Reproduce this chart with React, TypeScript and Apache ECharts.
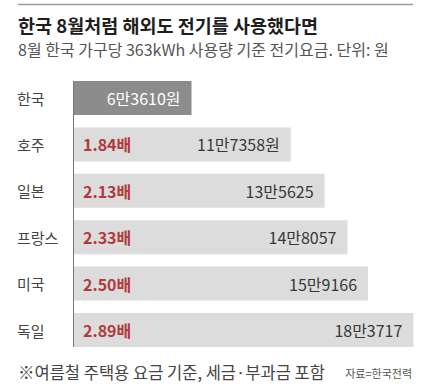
import React, { useEffect, useRef } from "react";
import * as echarts from "echarts";

const categories = ["한국", "호주", "일본", "프랑스", "미국", "독일"];
const values = [63610, 117358, 135625, 148057, 159166, 183717];
const valueLabels = ["6만3610원", "11만7358원", "13만5625", "14만8057", "15만9166", "18만3717"];
const multipliers = ["", "1.84배", "2.13배", "2.33배", "2.50배", "2.89배"];

const titleText = "한국 8월처럼 해외도 전기를 사용했다면";
const subtitleText = "8월 한국 가구당 363kWh 사용량 기준 전기요금. 단위: 원";
const footnoteText = "※여름철 주택용 요금 기준, 세금·부과금 포함";
const sourceText = "자료=한국전력";

const FONT = '"Noto Sans CJK KR", "Noto Sans", sans-serif';

export default function App() {
  const ref = useRef<HTMLDivElement>(null);
  useEffect(() => {
    if (!ref.current) return;
    const chart = echarts.init(ref.current, undefined, { renderer: "svg" });
    const barW = 34;
    chart.setOption({
      animation: false,
      backgroundColor: "#ffffff",
      textStyle: { fontFamily: FONT },
      grid: { left: 74, width: 351, top: 74.8, height: 278.4 },
      xAxis: {
        type: "value",
        min: 0,
        max: 190000,
        show: false,
      },
      yAxis: {
        type: "category",
        inverse: true,
        data: categories,
        axisLine: { show: false },
        axisTick: { show: false },
        axisLabel: {
          align: "left",
          margin: 57,
          fontSize: 15,
          color: "#444444",
          fontFamily: FONT,
        },
      },
      series: [
        {
          type: "bar",
          barWidth: barW,
          data: values.map((v, i) => ({
            value: v,
            itemStyle: { color: i === 0 ? "#8c8c8c" : "#dcdcdc" },
            label: { color: i === 0 ? "#ffffff" : "#383838" },
          })),
          label: {
            show: true,
            position: "insideRight",
            distance: 11,
            fontSize: 16,
            fontFamily: FONT,
            formatter: (p: any) => valueLabels[p.dataIndex],
          },
          silent: true,
        },
        {
          type: "bar",
          barWidth: barW,
          barGap: "-100%",
          data: values,
          itemStyle: { color: "rgba(0,0,0,0)" },
          label: {
            show: true,
            position: "insideLeft",
            distance: 9,
            fontSize: 16,
            fontWeight: "bold",
            color: "#b23a3d",
            fontFamily: FONT,
            formatter: (p: any) => multipliers[p.dataIndex],
          },
          silent: true,
        },
      ],
    });
    const x0 = chart.convertToPixel({ xAxisIndex: 0 }, 0) as number;
    const yTop = (chart.convertToPixel({ yAxisIndex: 0 }, 0) as number) - barW / 2;
    const yBot = (chart.convertToPixel({ yAxisIndex: 0 }, categories.length - 1) as number) + barW / 2;
    chart.setOption({
      graphic: [
        {
          type: "line",
          shape: { x1: 18, y1: 4.5, x2: 413, y2: 4.5 },
          style: { stroke: "#9a9a9a", lineWidth: 1.5 },
        },
        {
          type: "text",
          x: 18,
          y: 25,
          style: {
            text: titleText,
            fontSize: 18.5,
            fontWeight: "bold",
            fill: "#1e1e1e",
            fontFamily: FONT,
            textVerticalAlign: "middle",
          },
        },
        {
          type: "text",
          x: 18,
          y: 49,
          style: {
            text: subtitleText,
            fontSize: 16,
            fill: "#555555",
            fontFamily: FONT,
            textVerticalAlign: "middle",
          },
        },
        {
          type: "line",
          shape: { x1: x0 - 0.5, y1: yTop, x2: x0 - 0.5, y2: yBot },
          style: { stroke: "#777777", lineWidth: 1 },
        },
        {
          type: "text",
          x: 18,
          y: 372,
          style: {
            text: footnoteText,
            fontSize: 16.5,
            fill: "#444444",
            fontFamily: FONT,
            textVerticalAlign: "middle",
          },
        },
        {
          type: "text",
          x: 412,
          y: 373,
          style: {
            text: sourceText,
            fontSize: 11,
            fill: "#555555",
            fontFamily: FONT,
            textAlign: "right",
            textVerticalAlign: "middle",
          },
        },
      ],
    });
    return () => chart.dispose();
  }, []);
  return (
    <div
      ref={ref}
      style={{ position: "absolute", left: 0, top: 0, width: 430, height: 387 }}
    />
  );
}
